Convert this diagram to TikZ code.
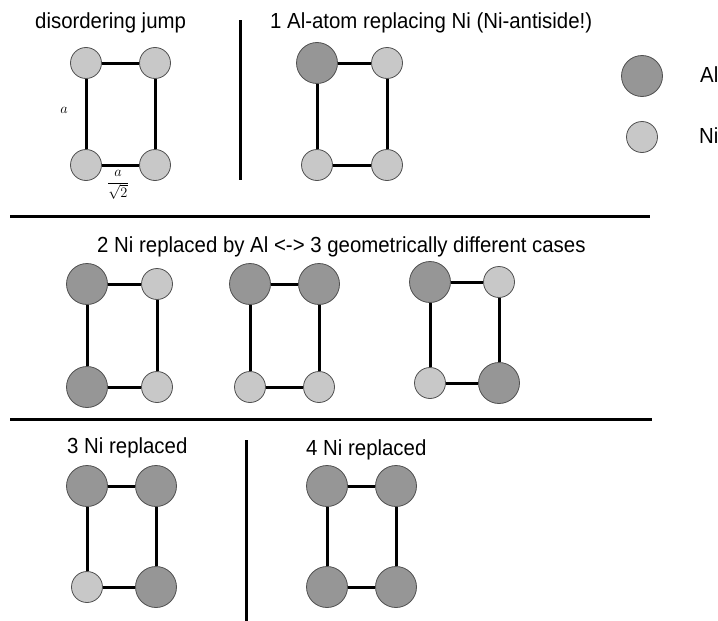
\documentclass[tikz,border=0pt]{standalone}
\usepackage{fontspec}
\setmainfont{Liberation Sans}
\definecolor{algray}{RGB}{150,150,150}
\definecolor{nigray}{RGB}{200,200,200}
\definecolor{rim}{RGB}{80,80,80}
\begin{document}
\begin{tikzpicture}[x=1pt,y=-1pt,
  al/.style={circle,fill=algray,draw=rim,line width=0.8pt,minimum size=41pt,inner sep=0pt},
  ni/.style={circle,fill=nigray,draw=rim,line width=0.8pt,minimum size=31pt,inner sep=0pt},
  bond/.style={line width=3pt},
  sep/.style={line width=3pt},
  lbl/.style={font=\fontsize{20.4}{24}\selectfont,anchor=base west,inner sep=0pt,yscale=1.07,transform shape},
  mth/.style={font=\fontsize{15}{17}\selectfont,inner sep=0pt}]
\useasboundingbox (0,0) rectangle (718,621);
% separators
\coordinate (s1a) at (240,20); \coordinate (s1b) at (240,180);
\coordinate (h1a) at (10,216); \coordinate (h1b) at (650,216);
\coordinate (h2a) at (10,419); \coordinate (h2b) at (652,419);
\coordinate (s2a) at (246,440); \coordinate (s2b) at (246,621);
\draw[sep] (s1a) -- (s1b);
\draw[sep] (h1a) -- (h1b);
\draw[sep] (h2a) -- (h2b);
\draw[sep] (s2a) -- (s2b);
% titles
\node[lbl] (t1) at (35,28) {disordering jump};
\node[lbl] (t2) at (270,28) {1 Al-atom replacing Ni (Ni-antiside!)};
\node[lbl] (t3) at (97,252) {2 Ni replaced by Al <-> 3 geometrically different cases};
\node[lbl] (t4) at (67,453) {3 Ni replaced};
\node[lbl] (t5) at (306,455) {4 Ni replaced};
% legend
\node[al] (lal) at (642,76) {};
\node[ni] (lni) at (642,137) {};
\node[lbl] (lalt) at (700,82) {Al};
\node[lbl] (lnit) at (699,143) {Ni};
% group A: disordering jump
\node[ni] (a1) at (86,63) {};
\node[ni] (a2) at (155,63) {};
\node[ni] (a3) at (86,165) {};
\node[ni] (a4) at (155,165) {};
\draw[bond] (a1) -- (a2) (a2) -- (a4) (a4) -- (a3) (a3) -- (a1);
\node[mth] (la) at (64,110) {$a$};
\node[mth] (lb) at (118,185) {$\displaystyle\frac{a}{\sqrt{2}}$};
% group B
\node[al] (b1) at (317,63) {};
\node[ni] (b2) at (387,63) {};
\node[ni] (b3) at (317,165) {};
\node[ni] (b4) at (387,165) {};
\draw[bond] (b1) -- (b2) (b2) -- (b4) (b4) -- (b3) (b3) -- (b1);
% group C
\node[al] (c1) at (87,284) {};
\node[ni] (c2) at (157,284) {};
\node[al] (c3) at (87,387) {};
\node[ni] (c4) at (157,387) {};
\draw[bond] (c1) -- (c2) (c2) -- (c4) (c4) -- (c3) (c3) -- (c1);
% group D
\node[al] (d1) at (250,284) {};
\node[al] (d2) at (319,284) {};
\node[ni] (d3) at (250,387) {};
\node[ni] (d4) at (319,387) {};
\draw[bond] (d1) -- (d2) (d2) -- (d4) (d4) -- (d3) (d3) -- (d1);
% group E
\node[al] (e1) at (430,282) {};
\node[ni] (e2) at (499,282) {};
\node[ni] (e3) at (430,383) {};
\node[al] (e4) at (499,383) {};
\draw[bond] (e1) -- (e2) (e2) -- (e4) (e4) -- (e3) (e3) -- (e1);
% group F
\node[al] (f1) at (87,486) {};
\node[al] (f2) at (156,486) {};
\node[ni] (f3) at (87,587) {};
\node[al] (f4) at (156,587) {};
\draw[bond] (f1) -- (f2) (f2) -- (f4) (f4) -- (f3) (f3) -- (f1);
% group G
\node[al] (g1) at (327,486) {};
\node[al] (g2) at (396,486) {};
\node[al] (g3) at (327,587) {};
\node[al] (g4) at (396,587) {};
\draw[bond] (g1) -- (g2) (g2) -- (g4) (g4) -- (g3) (g3) -- (g1);
\end{tikzpicture}
\end{document}
